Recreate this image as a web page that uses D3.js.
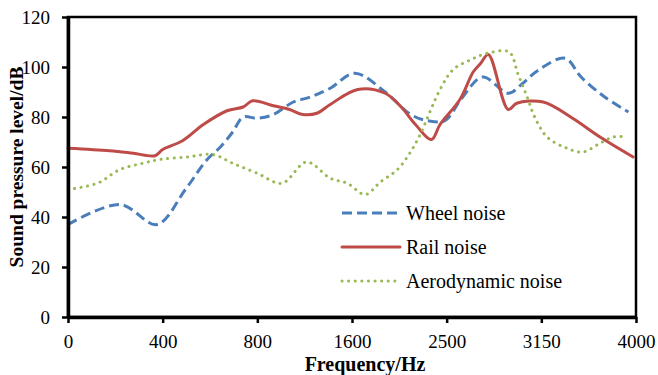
<!DOCTYPE html>
<html>
<head>
    <meta charset="utf-8">
    <title>Noise spectra</title>
    <script type="text/javascript" src="https://d3js.org/d3.v7.min.js"></script>
    <style>
        body { margin: 0; background: white; }
        .canvas { font-family: "Times New Roman", "Liberation Serif", serif; background-color: white; }
    </style>
</head>
<body>
    <svg class="canvas" width="658" height="375"></svg>
    <script type="text/javascript">
        // band labels shown on the x axis
        const freqLabels = ["0", "400", "800", "1600", "2500", "3150", "4000"]
        const yTicks = [0, 20, 40, 60, 80, 100, 120]

        // [band position, level dB]
        const wheelNoise = [[0, 37], [0.55, 45], [0.94, 37], [1.24, 51], [1.47, 63], [1.61, 68], [1.74, 74], [1.85, 80],
            [2.0, 79.5], [2.17, 81], [2.38, 86], [2.56, 88], [2.77, 91.5], [3.03, 97.5], [3.35, 90], [3.62, 81],
            [3.8, 78.5], [3.98, 78.5], [4.15, 87], [4.38, 96], [4.65, 89.5], [4.79, 93], [4.96, 98.5], [5.25, 103.5],
            [5.42, 96], [5.67, 88], [5.92, 82]]
        const railNoise = [[0, 67.5], [0.44, 66.5], [0.69, 65.5], [0.92, 64.5], [1.0, 67], [1.21, 70.5], [1.43, 77],
            [1.68, 82.5], [1.85, 84], [1.95, 86.5], [2.17, 84.5], [2.34, 83], [2.48, 81], [2.63, 81.5], [2.77, 85],
            [3.06, 91], [3.35, 89.5], [3.52, 84], [3.67, 77], [3.84, 71], [3.93, 77], [4.14, 87], [4.28, 98],
            [4.36, 101.5], [4.44, 105], [4.65, 83], [4.74, 85.5], [5.02, 86], [5.33, 79.5], [5.62, 72], [5.97, 64]]
        const aeroNoise = [[0, 51], [0.31, 53.5], [0.55, 59], [0.79, 61.5], [0.97, 63], [1.26, 64], [1.53, 65],
            [1.74, 61.5], [2.0, 57.5], [2.26, 53.5], [2.52, 62], [2.77, 55.5], [2.95, 53.5], [3.14, 49], [3.3, 54],
            [3.48, 59], [3.61, 65.5], [3.72, 73], [3.93, 91], [4.07, 99], [4.26, 103], [4.43, 105.5], [4.66, 106],
            [4.75, 97.5], [4.85, 88], [4.93, 80], [5.06, 72], [5.27, 67.5], [5.44, 66], [5.62, 69.5], [5.76, 72], [5.9, 72]]

        const series = [
            { name: "Wheel noise", values: wheelNoise, color: "#4a7ebb", dash: "10,5", cap: "butt" },
            { name: "Rail noise", values: railNoise, color: "#be4b48", dash: null, cap: "round" },
            { name: "Aerodynamic noise", values: aeroNoise, color: "#98b954", dash: "0.1,6.5", cap: "round" }
        ]

        const plotLeft = 68, plotRight = 636, plotTop = 17, plotBottom = 317
        const svg = d3.select('.canvas')

        const x = d3.scaleLinear().domain([0, freqLabels.length - 1]).range([plotLeft, plotRight])
        const y = d3.scaleLinear().domain([0, 120]).range([plotBottom, plotTop])

        // plot frame
        svg.append('rect')
            .attr('x', plotLeft).attr('y', plotTop)
            .attr('width', plotRight - plotLeft).attr('height', plotBottom - plotTop)
            .attr('fill', 'none').attr('stroke', '#000').attr('stroke-width', 2.5)

        const line = d3.line()
            .x(d => x(d[0]))
            .y(d => y(d[1]))
            .curve(d3.curveCatmullRom.alpha(0.5))

        series.forEach(s => {
            svg.append('path')
                .datum(s.values)
                .attr('d', line)
                .attr('fill', 'none')
                .attr('stroke', s.color)
                .attr('stroke-width', 3)
                .attr('stroke-linecap', s.cap)
                .attr('stroke-dasharray', s.dash)
        })

        // axes
        const yAxis = svg.append('g')
            .attr('transform', `translate(${plotLeft},0)`)
            .call(d3.axisLeft(y).tickValues(yTicks).tickSize(6).tickSizeOuter(0).tickPadding(12))
        const xAxis = svg.append('g')
            .attr('transform', `translate(0,${plotBottom})`)
            .call(d3.axisBottom(x).tickValues(d3.range(freqLabels.length)).tickFormat(i => freqLabels[i])
                .tickSize(6).tickSizeOuter(0).tickPadding(12))

        ;[yAxis, xAxis].forEach(g => {
            g.select('.domain').attr('stroke-width', 3.5)
            g.selectAll('.tick line').attr('stroke-width', 2.5)
            g.selectAll('.tick text')
                .attr('font-family', '"Times New Roman", "Liberation Serif", serif')
                .attr('font-size', 19).attr('fill', '#000')
        })
        yAxis.selectAll('.tick text').attr('dy', '0.35em')

        svg.append('text')
            .attr('x', 365).attr('y', 371)
            .attr('text-anchor', 'middle')
            .attr('font-size', 20).attr('font-weight', 'bold')
            .text('Frequency/Hz')

        svg.append('text')
            .attr('transform', `translate(23,${(plotTop + plotBottom) / 2}) rotate(-90)`)
            .attr('text-anchor', 'middle')
            .attr('font-size', 19.5).attr('font-weight', 'bold')
            .text('Sound pressure level/dB')

        // legend
        const legend = svg.append('g').attr('transform', 'translate(342,213)')
        series.forEach((s, i) => {
            const row = legend.append('g').attr('transform', `translate(0,${i * 34})`)
            row.append('line')
                .attr('x1', 0).attr('x2', 58).attr('y1', 0).attr('y2', 0)
                .attr('stroke', s.color).attr('stroke-width', 3)
                .attr('stroke-linecap', s.cap)
                .attr('stroke-dasharray', s.dash)
            row.append('text')
                .attr('x', 64).attr('y', 0).attr('dy', '0.35em')
                .attr('font-size', 20)
                .text(s.name)
        })
    </script>
</body>
</html>
